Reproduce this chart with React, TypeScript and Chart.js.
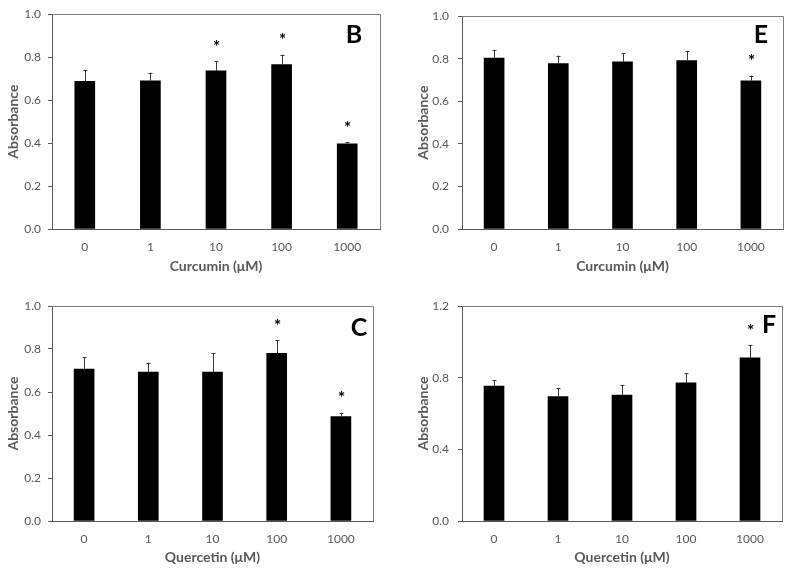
import React, { useEffect, useRef } from "react";
import { Chart, registerables } from "chart.js";
Chart.register(...registerables);

// ---- data ----
const categories = ["0", "1", "10", "100", "1000"];

const meansB = [0.688, 0.69, 0.736, 0.766, 0.397];
const errorsB = [0.052, 0.037, 0.044, 0.046, 0.006];
const sigB = [false, false, true, true, true];

const meansE = [0.803, 0.777, 0.786, 0.792, 0.696];
const errorsE = [0.039, 0.038, 0.04, 0.045, 0.025];
const sigE = [false, false, false, false, true];

const meansC = [0.707, 0.693, 0.693, 0.78, 0.486];
const errorsC = [0.056, 0.044, 0.087, 0.06, 0.018];
const sigC = [false, false, false, true, true];

const meansF = [0.753, 0.695, 0.703, 0.771, 0.911];
const errorsF = [0.032, 0.048, 0.055, 0.053, 0.069];
const sigF = [false, false, false, false, true];

const yTitle = "Absorbance";
const xTitleCurcumin = "Curcumin (μM)";
const xTitleQuercetin = "Quercetin (μM)";

type Panel = {
  letter: string;
  xTitle: string;
  means: number[];
  errors: number[];
  sig: boolean[];
  yMax: number;
  yStep: number;
  left: number;
  top: number;
  w: number;
  h: number;
  area: { l: number; r: number; t: number; b: number };
  yTickPad: number;
  xTitlePad: number;
  letterDx: number;
  letterDy: number;
};

const panels: Panel[] = [
  {
    letter: "B", xTitle: xTitleCurcumin, means: meansB, errors: errorsB, sig: sigB,
    yMax: 1.0, yStep: 0.2, left: 0, top: 0, w: 395, h: 286,
    area: { l: 52, r: 380, t: 14, b: 229 }, yTickPad: 7, xTitlePad: 11,
    letterDx: 26, letterDy: 21,
  },
  {
    letter: "E", xTitle: xTitleCurcumin, means: meansE, errors: errorsE, sig: sigE,
    yMax: 1.0, yStep: 0.2, left: 395, top: 0, w: 396, h: 286,
    area: { l: 67, r: 388, t: 14, b: 229 }, yTickPad: 9, xTitlePad: 11,
    letterDx: 22, letterDy: 19,
  },
  {
    letter: "C", xTitle: xTitleQuercetin, means: meansC, errors: errorsC, sig: sigC,
    yMax: 1.0, yStep: 0.2, left: 0, top: 286, w: 395, h: 286,
    area: { l: 52, r: 373, t: 20, b: 235 }, yTickPad: 7, xTitlePad: 6,
    letterDx: 14, letterDy: 22,
  },
  {
    letter: "F", xTitle: xTitleQuercetin, means: meansF, errors: errorsF, sig: sigF,
    yMax: 1.2, yStep: 0.4, left: 395, top: 286, w: 396, h: 286,
    area: { l: 67, r: 387, t: 20, b: 235 }, yTickPad: 9, xTitlePad: 6,
    letterDx: 13, letterDy: 19,
  },
];

const AXIS = "#595959";
const FRAME = "#7f7f7f";
const FONT = "Lato, 'Open Sans', sans-serif";
const Y_TITLE_GAP = 39;

function PanelChart({ p }: { p: Panel }) {
  const ref = useRef<HTMLCanvasElement | null>(null);
  useEffect(() => {
    if (!ref.current) return;
    const overlay = {
      id: "overlay" + p.letter,
      afterDatasetsDraw(chart: any) {
        const { ctx, chartArea } = chart;
        const x = chart.scales.x;
        const y = chart.scales.y;
        ctx.save();
        // frame top + right
        ctx.strokeStyle = FRAME;
        ctx.lineWidth = 1;
        ctx.beginPath();
        ctx.moveTo(chartArea.left, Math.round(chartArea.top) + 0.5);
        ctx.lineTo(Math.round(chartArea.right) + 0.5, Math.round(chartArea.top) + 0.5);
        ctx.lineTo(Math.round(chartArea.right) + 0.5, chartArea.bottom);
        ctx.stroke();
        // error bars + stars
        ctx.strokeStyle = "#3a3a3a";
        ctx.fillStyle = "#000";
        ctx.font = `bold 17px ${FONT}`;
        ctx.textAlign = "center";
        ctx.textBaseline = "middle";
        p.means.forEach((m, i) => {
          const xc = Math.round(x.getPixelForValue(i)) + 0.5;
          const y0 = y.getPixelForValue(m);
          const y1 = y.getPixelForValue(m + p.errors[i]);
          ctx.beginPath();
          ctx.moveTo(xc, y0);
          ctx.lineTo(xc, y1);
          ctx.moveTo(xc - 2, Math.round(y1) + 0.5);
          ctx.lineTo(xc + 2, Math.round(y1) + 0.5);
          ctx.stroke();
          if (p.sig[i]) {
            ctx.fillText("*", xc, y1 - 14);
          }
        });
        // panel letter
        ctx.font = `bold 25px ${FONT}`;
        ctx.fillText(p.letter, chartArea.right - p.letterDx, chartArea.top + p.letterDy);
        // y axis title
        ctx.save();
        ctx.translate(chartArea.left - Y_TITLE_GAP, (chartArea.top + chartArea.bottom) / 2);
        ctx.rotate(-Math.PI / 2);
        ctx.fillStyle = AXIS;
        ctx.font = `bold 14px ${FONT}`;
        ctx.fillText(yTitle, 0, 0);
        ctx.restore();
        ctx.restore();
      },
    };
    const chart = new Chart(ref.current, {
      type: "bar",
      data: {
        labels: categories,
        datasets: [
          {
            data: p.means,
            backgroundColor: "#000000",
            borderWidth: 0,
            barThickness: 20,
          },
        ],
      },
      options: {
        animation: false,
        responsive: false,
        layout: { padding: { top: p.area.t, right: p.w - p.area.r, left: 0, bottom: 0 } },
        plugins: { legend: { display: false }, tooltip: { enabled: false } },
        scales: {
          x: {
            grid: { display: false, drawTicks: false },
            border: { display: true, color: AXIS, width: 1 },
            ticks: { color: AXIS, font: { family: FONT, size: 12 }, padding: 11 },
            title: {
              display: true,
              text: p.xTitle,
              color: AXIS,
              font: { family: FONT, size: 14, weight: "bold" },
              padding: { top: 0, bottom: p.xTitlePad },
            },
            afterFit: (s: any) => {
              s.height = p.h - p.area.b;
            },
          },
          y: {
            min: 0,
            max: p.yMax,
            ticks: {
              stepSize: p.yStep,
              color: AXIS,
              font: { family: FONT, size: 12 },
              padding: p.yTickPad,
              callback: (v: any) => Number(v).toFixed(1),
            },
            grid: { drawOnChartArea: false, drawTicks: true, tickLength: 4, color: AXIS },
            border: { display: true, color: AXIS, width: 1 },
            title: { display: false },
            afterFit: (s: any) => {
              s.width = p.area.l;
            },
          },
        },
      } as any,
      plugins: [overlay],
    });
    return () => chart.destroy();
  }, [p]);
  return (
    <canvas
      ref={ref}
      width={p.w}
      height={p.h}
      style={{ position: "absolute", left: p.left, top: p.top, width: p.w, height: p.h }}
    />
  );
}

export default function App() {
  return (
    <div style={{ position: "absolute", left: 0, top: 0, width: 791, height: 572, background: "#fff" }}>
      {panels.map((p) => (
        <PanelChart key={p.letter} p={p} />
      ))}
    </div>
  );
}
